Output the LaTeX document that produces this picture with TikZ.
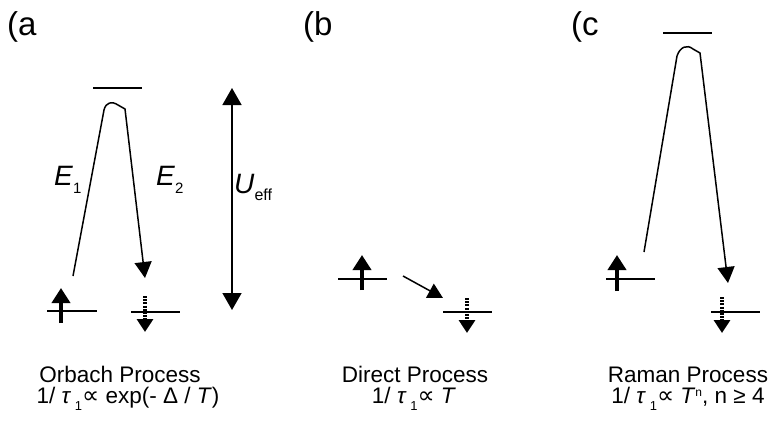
\documentclass[tikz,border=0pt]{standalone}
\usepackage{fontspec}
\setmainfont{Liberation Sans}
\newfontfamily\symfont{DejaVu Sans}
\usetikzlibrary{arrows.meta}

\newcommand{\lowsub}[1]{\raisebox{-7pt}{\fontsize{13}{13}\selectfont #1}}
\newcommand{\rate}{1/ \textit{τ}\,\lowsub{1}{\symfont\fontsize{24}{24}\selectfont ∝}}

\tikzset{
  level/.style={line width=1.6pt},
  jump/.style={line width=1.5pt, -{Triangle[length=16pt,width=17pt]}},
  spinup/.style={line width=4pt, -{Triangle[length=15pt,width=18pt]}},
  spindown/.style={line width=3.2pt, dash pattern=on 2pt off 1.2pt, -{Triangle[length=13pt,width=16pt]}},
  tag/.style={font=\fontsize{33}{35}\selectfont, anchor=base west, inner sep=0pt},
  caption/.style={font=\fontsize{22.5}{24}\selectfont, anchor=base, inner sep=0pt, text depth=0pt},
  ratecap/.style={font=\fontsize{22.5}{24}\selectfont, anchor=base, inner sep=0pt, text height=15pt},
  energy/.style={font=\fontsize{28}{30}\selectfont, anchor=base west, inner sep=0pt}
}

\begin{document}
\begin{tikzpicture}[x=1pt,y=-1pt]
  \useasboundingbox (0,0) rectangle (773,421);

  \node (taga) [tag] at (7,35) {(a};
  \node (tagb) [tag] at (303,35) {(b};
  \node (tagc) [tag] at (571,35) {(c};

  % Orbach
  \draw[level] (93,88) -- ++(49,0);
  \draw[level] (47,311) -- ++(50,0);
  \draw[level] (131,312) -- ++(49,0);
  \coordinate (aup) at (73,276);
  \coordinate (atopl) at (104,110);
  \coordinate (atopr) at (125,109);
  \coordinate (adown) at (145,278);
  \draw[jump] (aup) -- (atopl) .. controls (106,102) and (112,101) .. (118,105) -- (atopr) -- (adown);
  \coordinate (aspin1) at (61,323);
  \coordinate (aspin2) at (61,288);
  \draw[spinup] (aspin1) -- (aspin2);
  \coordinate (aspin3) at (145,296);
  \coordinate (aspin4) at (145,332);
  \draw[spindown] (aspin3) -- (aspin4);
  \coordinate (ueffhi) at (232,88);
  \coordinate (uefflo) at (232,310);
  \draw[line width=1.6pt, {Triangle[length=17pt,width=19pt]}-{Triangle[length=17pt,width=19pt]}] (ueffhi) -- (uefflo);
  \node (eone) [energy] at (54,185) {\textit{E}\raisebox{-8pt}{\fontsize{15}{15}\selectfont 1}};
  \node (etwo) [energy] at (156,185) {\textit{E}\raisebox{-8pt}{\fontsize{15}{15}\selectfont 2}};
  \node (ueff) [energy] at (234,193) {\textit{U}\raisebox{-7pt}{\fontsize{16}{16}\selectfont eff}};
  \node (orbach) [caption] at (120,382) {Orbach Process};
  \node (orbachrate) [ratecap] at (128,403) {\rate\ exp(-~Δ / \textit{T})};

  % Direct
  \draw[level] (338,279) -- ++(49,0);
  \draw[level] (443,312) -- ++(49,0);
  \coordinate (bfrom) at (403,276);
  \coordinate (bto) at (443,298);
  \draw[line width=1.5pt, -{Triangle[length=15pt,width=16pt]}] (bfrom) -- (bto);
  \coordinate (bspin1) at (362,290);
  \coordinate (bspin2) at (362,255);
  \draw[spinup] (bspin1) -- (bspin2);
  \coordinate (bspin3) at (467,298);
  \coordinate (bspin4) at (467,333);
  \draw[spindown] (bspin3) -- (bspin4);
  \node (direct) [caption] at (415,382) {Direct Process};
  \node (directrate) [ratecap] at (414,403) {\rate\ \textit{T}};

  % Raman
  \draw[level] (663,33) -- ++(49,0);
  \draw[level] (606,279) -- ++(49,0);
  \draw[level] (711,312) -- ++(49,0);
  \coordinate (cup) at (644,252);
  \coordinate (ctopl) at (677,56);
  \coordinate (ctopr) at (700,53);
  \coordinate (cdown) at (728,283);
  \draw[jump] (cup) -- (ctopl) .. controls (680,47) and (687,44) .. (693,49) -- (ctopr) -- (cdown);
  \coordinate (cspin1) at (617,291);
  \coordinate (cspin2) at (617,255);
  \draw[spinup] (cspin1) -- (cspin2);
  \coordinate (cspin3) at (722,297);
  \coordinate (cspin4) at (722,333);
  \draw[spindown] (cspin3) -- (cspin4);
  \node (raman) [caption] at (688,382) {Raman Process};
  \node (ramanrate) [ratecap] at (688,403) {\rate\ \textit{T}\raisebox{7pt}{\fontsize{12}{12}\selectfont n}, n ≥ 4};
\end{tikzpicture}
\end{document}
